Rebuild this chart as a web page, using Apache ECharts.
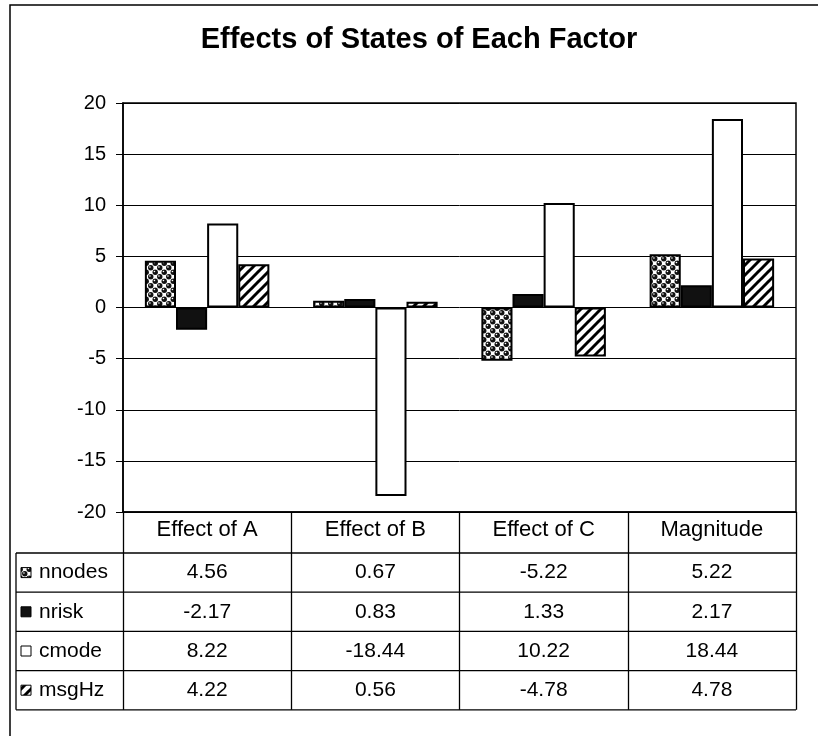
<!DOCTYPE html>
<html><head><meta charset="utf-8">
<script src="https://cdn.jsdelivr.net/npm/echarts@6/dist/echarts.min.js"></script>
<style>html,body{margin:0;padding:0;background:#fff}#c{width:818px;height:736px}</style>
</head><body><div id="c"></div>
<script>
const chartTitle = 'Effects of States of Each Factor';
const categories = ['Effect of A', 'Effect of B', 'Effect of C', 'Magnitude'];
const seriesNames = ['nnodes', 'nrisk', 'cmode', 'msgHz'];
const nnodes = [4.56, 0.67, -5.22, 5.22];
const nrisk = [-2.17, 0.83, 1.33, 2.17];
const cmode = [8.22, -18.44, 10.22, 18.44];
const msgHz = [4.22, 0.56, -4.78, 4.78];
const yMin = -20, yMax = 20, yStep = 5;

const FONT = '"Liberation Sans", Arial, sans-serif';
const G = { left: 123, right: 796, top: 103, bottom: 512 };
const T = { left: 16, headerBottom: 553, rowH: 39.2 };
const tableBottom = T.headerBottom + T.rowH * seriesNames.length;

function makeTile(w, h, draw) {
  const c = document.createElement('canvas'); c.width = w; c.height = h;
  const g = c.getContext('2d'); draw(g, w, h); return c;
}
const dotTile = makeTile(9, 9, (g, w, h) => {
  g.fillStyle = '#fff'; g.fillRect(0, 0, w, h);
  const base = [[2.25, 2.25], [6.75, 6.75]];
  for (const [bx, by] of base) for (const dx of [-9, 0, 9]) for (const dy of [-9, 0, 9]) {
    g.fillStyle = '#111'; g.beginPath(); g.arc(bx + dx, by + dy, 2.7, 0, Math.PI * 2); g.fill();
    g.fillStyle = '#fff'; g.beginPath(); g.arc(bx + dx - 0.8, by + dy - 0.8, 0.8, 0, Math.PI * 2); g.fill();
  }
});
const hatchTile = makeTile(10, 10, (g, w, h) => {
  g.fillStyle = '#fff'; g.fillRect(0, 0, w, h);
  g.strokeStyle = '#000'; g.lineWidth = 3;
  for (const o of [-10, 0, 10]) { g.beginPath(); g.moveTo(-1 + o, 11); g.lineTo(11 + o, -1); g.stroke(); }
});
const fills = [
  { image: dotTile, repeat: 'repeat' },
  '#111',
  '#fff',
  { image: hatchTile, repeat: 'repeat' }
];
const seriesData = [nnodes, nrisk, cmode, msgHz];

const chart = echarts.init(document.getElementById('c'), null, { renderer: 'canvas' });

const graphics = [];
graphics.push({ type: 'rect', shape: { x: 10, y: 5, width: 900, height: 900 },
  style: { fill: 'none', stroke: '#000', lineWidth: 1.5 }, silent: true });
graphics.push({ type: 'text', x: 419, y: 40,
  style: { text: chartTitle, font: 'bold 29px ' + FONT, fill: '#000', textAlign: 'center', textVerticalAlign: 'middle' } });
// table lines
for (let i = 0; i <= seriesNames.length; i++) {
  const y = T.headerBottom + i * T.rowH;
  graphics.push({ type: 'line', shape: { x1: T.left, y1: y, x2: G.right, y2: y }, style: { stroke: '#000', lineWidth: 1.3 } });
}
graphics.push({ type: 'line', shape: { x1: T.left, y1: T.headerBottom, x2: T.left, y2: tableBottom }, style: { stroke: '#000', lineWidth: 1.3 } });
const colW = (G.right - G.left) / categories.length;
seriesNames.forEach((name, i) => {
  const cy = T.headerBottom + (i + 0.5) * T.rowH;
  graphics.push({ type: 'rect', shape: { x: 21, y: cy - 5, width: 10, height: 10 },
    style: { fill: fills[i], stroke: '#000', lineWidth: 1 } });
  graphics.push({ type: 'text', x: 39, y: cy,
    style: { text: name, font: '21px ' + FONT, fill: '#000', textAlign: 'left', textVerticalAlign: 'middle' } });
  seriesData[i].forEach((v, j) => {
    graphics.push({ type: 'text', x: G.left + (j + 0.5) * colW, y: cy,
      style: { text: v.toFixed(2), font: '21px ' + FONT, fill: '#000', textAlign: 'center', textVerticalAlign: 'middle' } });
  });
});

chart.setOption({
  animation: false,
  backgroundColor: '#fff',
  grid: { left: G.left, right: 818 - G.right, top: G.top, bottom: 736 - G.bottom,
    show: true, borderColor: '#000', borderWidth: 1.5, backgroundColor: 'transparent' },
  xAxis: {
    type: 'category', data: categories, position: 'bottom',
    axisLine: { onZero: false, lineStyle: { color: '#000', width: 1.5 } },
    axisTick: { show: true, length: tableBottom - G.bottom, lineStyle: { color: '#000', width: 1.3 } },
    axisLabel: { color: '#000', fontSize: 22, fontFamily: FONT, margin: 7 },
    splitLine: { show: false }
  },
  yAxis: {
    type: 'value', min: yMin, max: yMax, interval: yStep,
    axisLine: { show: true, lineStyle: { color: '#000', width: 1.5 } },
    axisTick: { show: true, length: 7, lineStyle: { color: '#000' } },
    axisLabel: { color: '#000', fontSize: 20, fontFamily: FONT, margin: 17 },
    splitLine: { show: true, lineStyle: { color: '#000', width: 1 } }
  },
  series: seriesNames.map((name, i) => ({
    name, type: 'bar', data: seriesData[i],
    barGap: '0%', barCategoryGap: '26%',
    itemStyle: { color: fills[i], borderColor: '#000', borderWidth: 2 }
  })),
  graphic: graphics
});
</script></body></html>
